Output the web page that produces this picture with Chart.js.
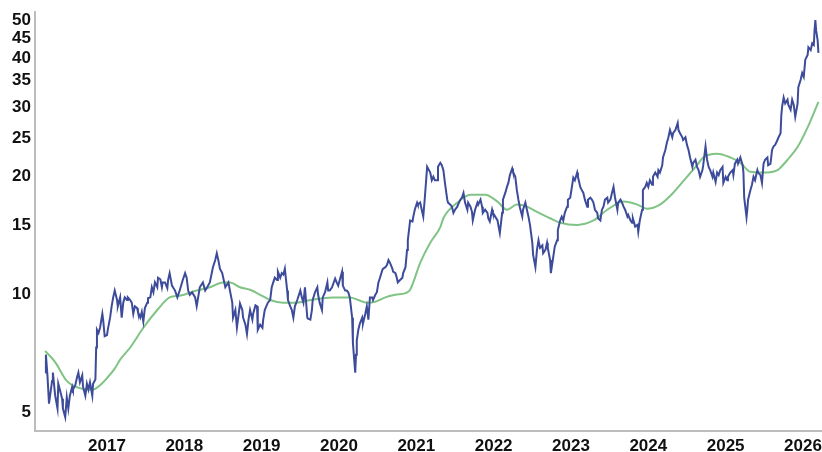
<!DOCTYPE html>
<html>
<head>
<meta charset="utf-8">
<script src="https://cdn.jsdelivr.net/npm/chart.js@4"></script>
<style>
  html, body { margin: 0; padding: 0; background: #fff; }
  #wrap { width: 822px; height: 452px; position: relative; }
</style>
</head>
<body>
<div id="wrap"><canvas id="chart"></canvas></div>
<script>
// price, decimal years
const priceDates = [
  2016.20, 2016.21, 2016.23, 2016.25, 2016.29, 2016.30, 2016.33, 2016.36, 2016.37, 2016.39, 2016.42, 2016.43,
  2016.46, 2016.48, 2016.50, 2016.52, 2016.55, 2016.56, 2016.59, 2016.61, 2016.63, 2016.65, 2016.68, 2016.69,
  2016.72, 2016.74, 2016.76, 2016.78, 2016.81, 2016.82, 2016.85, 2016.86, 2016.87, 2016.89, 2016.91, 2016.94,
  2016.95, 2016.97,
  2017.00, 2017.01, 2017.04, 2017.06, 2017.08, 2017.10, 2017.13, 2017.14, 2017.17, 2017.19, 2017.21, 2017.23,
  2017.26, 2017.27, 2017.30, 2017.32, 2017.34, 2017.36, 2017.39, 2017.40, 2017.43, 2017.45, 2017.47, 2017.49,
  2017.52, 2017.53, 2017.56, 2017.58, 2017.60, 2017.62, 2017.65, 2017.66, 2017.69, 2017.71, 2017.72, 2017.75,
  2017.78, 2017.79, 2017.81, 2017.84, 2017.88, 2017.91, 2017.94, 2017.98,
  2018.01, 2018.03, 2018.05, 2018.07, 2018.10, 2018.14, 2018.16, 2018.20, 2018.24, 2018.27, 2018.29, 2018.33,
  2018.37, 2018.40, 2018.42, 2018.44, 2018.46, 2018.49, 2018.53, 2018.57, 2018.59, 2018.62, 2018.63, 2018.66,
  2018.68, 2018.72, 2018.75, 2018.76, 2018.79, 2018.81, 2018.83, 2018.85, 2018.88, 2018.89, 2018.92, 2018.94,
  2018.95, 2018.98,
  2019.01, 2019.02, 2019.04, 2019.08, 2019.11, 2019.13, 2019.15, 2019.17, 2019.20, 2019.21, 2019.24, 2019.26,
  2019.28, 2019.30, 2019.33, 2019.34, 2019.37, 2019.39, 2019.41, 2019.43, 2019.46, 2019.50, 2019.52, 2019.54,
  2019.56, 2019.59, 2019.60, 2019.63, 2019.65, 2019.66, 2019.69, 2019.72, 2019.73, 2019.75, 2019.78, 2019.79,
  2019.82, 2019.85, 2019.86, 2019.88, 2019.91, 2019.92, 2019.95, 2019.97, 2019.99,
  2020.01, 2020.04, 2020.05, 2020.08, 2020.10, 2020.12, 2020.14, 2020.17, 2020.18, 2020.21, 2020.22, 2020.23,
  2020.25, 2020.27, 2020.30, 2020.31, 2020.34, 2020.36, 2020.38, 2020.40, 2020.43, 2020.44, 2020.47, 2020.49,
  2020.51, 2020.53, 2020.56, 2020.57, 2020.60, 2020.62, 2020.64, 2020.66, 2020.69, 2020.70, 2020.73, 2020.75,
  2020.76, 2020.79, 2020.82, 2020.83, 2020.86, 2020.88, 2020.89, 2020.92, 2020.95, 2020.96, 2020.98,
  2021.01, 2021.02, 2021.05, 2021.07, 2021.09, 2021.11, 2021.14, 2021.15, 2021.18, 2021.20, 2021.22, 2021.24,
  2021.27, 2021.28, 2021.31, 2021.33, 2021.35, 2021.37, 2021.40, 2021.41, 2021.44, 2021.46, 2021.48, 2021.50,
  2021.53, 2021.54, 2021.57, 2021.59, 2021.61, 2021.63, 2021.66, 2021.67, 2021.70, 2021.72, 2021.73, 2021.76,
  2021.79, 2021.80, 2021.83, 2021.85, 2021.86, 2021.89, 2021.92, 2021.93, 2021.95, 2021.98, 2021.99,
  2022.02, 2022.05, 2022.06, 2022.08, 2022.11, 2022.12, 2022.15, 2022.17, 2022.19, 2022.21, 2022.24, 2022.25,
  2022.28, 2022.30, 2022.32, 2022.34, 2022.37, 2022.38, 2022.41, 2022.43, 2022.45, 2022.47, 2022.50, 2022.51,
  2022.54, 2022.56, 2022.58, 2022.60, 2022.63, 2022.64, 2022.67, 2022.69, 2022.70, 2022.73, 2022.74, 2022.77,
  2022.79, 2022.82, 2022.83, 2022.86, 2022.88, 2022.90, 2022.92, 2022.95, 2022.96, 2022.99,
  2023.02, 2023.03, 2023.05, 2023.08, 2023.09, 2023.12, 2023.14, 2023.16, 2023.18, 2023.21, 2023.22, 2023.25,
  2023.27, 2023.29, 2023.31, 2023.34, 2023.35, 2023.38, 2023.40, 2023.42, 2023.44, 2023.47, 2023.48, 2023.51,
  2023.53, 2023.55, 2023.57, 2023.60, 2023.61, 2023.64, 2023.66, 2023.68, 2023.70, 2023.73, 2023.74, 2023.77,
  2023.79, 2023.80, 2023.83, 2023.86, 2023.87, 2023.89, 2023.92, 2023.93, 2023.96, 2023.98,
  2024.00, 2024.02, 2024.05, 2024.06, 2024.09, 2024.12, 2024.13, 2024.15, 2024.18, 2024.19, 2024.22, 2024.24,
  2024.26, 2024.28, 2024.31, 2024.32, 2024.35, 2024.38, 2024.39, 2024.41, 2024.44, 2024.45, 2024.48, 2024.50,
  2024.52, 2024.54, 2024.57, 2024.58, 2024.61, 2024.63, 2024.65, 2024.67, 2024.70, 2024.71, 2024.74, 2024.76,
  2024.78, 2024.80, 2024.83, 2024.84, 2024.87, 2024.89, 2024.91, 2024.93, 2024.96, 2024.97,
  2025.00, 2025.02, 2025.03, 2025.06, 2025.09, 2025.10, 2025.12, 2025.15, 2025.16, 2025.19, 2025.22, 2025.23,
  2025.24, 2025.27, 2025.28, 2025.29, 2025.32, 2025.34, 2025.36, 2025.38, 2025.41, 2025.42, 2025.45, 2025.47,
  2025.49, 2025.51, 2025.54, 2025.55, 2025.58, 2025.60, 2025.62, 2025.64, 2025.67, 2025.68, 2025.71, 2025.72,
  2025.73, 2025.75, 2025.77, 2025.80, 2025.81, 2025.84, 2025.86, 2025.88, 2025.90, 2025.93, 2025.94, 2025.97,
  2025.99,
  2026.01, 2026.03, 2026.06, 2026.07, 2026.10, 2026.12, 2026.14, 2026.15, 2026.16, 2026.17, 2026.19, 2026.20
];

const priceValues = [
  6.3, 7.0, 6.2, 5.25, 6.0, 6.3, 5.5, 5.1, 5.9, 5.7, 5.4, 5.1,
  4.85, 5.45, 5.1, 5.5, 5.8, 5.7, 5.85, 6.1, 6.3, 5.95, 6.2, 5.8,
  5.5, 5.9, 5.7, 5.95, 5.5, 5.9, 6.05, 7.3, 8.1, 7.95, 8.2, 8.9,
  8.6, 7.8,
  7.85, 8.1, 8.7, 9.3, 9.8, 10.2, 9.65, 9.3, 9.8, 8.7, 9.5, 9.8,
  9.65, 9.8, 9.65, 9.5, 8.9, 9.3, 9.2, 9.0, 8.7, 9.0, 8.5, 9.2,
  9.5, 9.75, 9.8, 10.4, 10.1, 10.7, 10.4, 11.0, 10.9, 10.4, 10.7, 10.7,
  10.35, 10.85, 11.3, 10.5, 10.2, 9.8, 10.2, 10.85,
  11.3, 11.0, 10.2, 9.95, 10.1, 9.8, 9.3, 10.4, 10.7, 10.2, 10.35, 10.7,
  11.7, 12.2, 12.7, 12.2, 11.6, 11.3, 10.4, 10.7, 10.2, 9.5, 8.7, 9.1,
  8.2, 9.45, 9.1, 8.7, 8.35, 7.9, 8.6, 9.1, 8.6, 8.9, 9.35, 9.3,
  8.1, 8.35,
  8.2, 8.6, 9.1, 9.5, 9.65, 10.4, 10.7, 11.0, 10.85, 11.4, 11.0, 11.3,
  11.2, 11.6, 10.2, 9.65, 9.3, 9.1, 8.7, 9.3, 9.65, 10.2, 9.8, 9.5,
  10.4, 8.7, 8.65, 8.6, 9.1, 9.65, 10.1, 10.4, 9.95, 9.5, 9.1, 9.8,
  10.1, 10.7, 10.2, 10.2, 10.4, 10.4, 10.95, 10.7, 10.5,
  10.85, 11.4, 10.5, 10.2, 10.2, 10.1, 9.8, 8.7, 7.5, 6.3, 7.0, 7.6,
  8.1, 8.4, 8.7, 8.4, 8.9, 9.3, 8.6, 9.8, 9.8, 9.65, 9.95, 10.1,
  10.7, 11.0, 11.5, 11.6, 11.7, 11.85, 12.2, 12.0, 11.6, 11.4, 11.3, 10.95,
  10.7, 10.85, 11.0, 11.3, 11.7, 12.95, 13.7, 15.4, 15.3, 15.7, 16.4,
  17.1, 16.9, 17.1, 16.4, 15.75, 17.6, 21.1, 21.1, 20.4, 19.5, 19.9, 19.5,
  19.5, 21.1, 21.6, 21.3, 20.7, 19.2, 17.4, 17.1, 16.9, 16.7, 16.1, 16.4,
  16.7, 16.9, 17.4, 17.6, 18.1, 17.1, 16.4, 17.1, 16.7, 16.2, 15.4, 16.4,
  17.1, 16.9, 17.4, 16.7, 16.1, 16.4, 16.1, 15.6, 15.3, 16.4, 16.1,
  15.75, 15.4, 15.0, 14.3, 16.1, 17.4, 18.1, 18.7, 19.2, 20.1, 20.9, 20.5,
  19.9, 18.4, 17.4, 16.6, 15.75, 16.4, 17.1, 16.4, 15.75, 15.0, 13.5, 12.6,
  11.7, 12.95, 13.7, 13.1, 13.3, 12.7, 12.95, 13.5, 13.1, 12.2, 11.3, 12.4,
  13.2, 13.7, 14.55, 15.4, 15.75, 15.4, 16.1, 16.7, 17.4, 17.6,
  19.2, 19.8, 19.5, 20.4, 19.9, 18.75, 18.4, 18.1, 17.4, 16.7, 17.4, 17.6,
  17.4, 17.1, 16.4, 16.1, 15.6, 15.4, 16.4, 16.7, 17.4, 17.6, 17.1, 17.4,
  18.1, 18.75, 17.6, 16.4, 17.1, 17.4, 17.1, 16.7, 16.4, 15.75, 15.9, 15.4,
  15.2, 15.6, 14.85, 15.0, 14.4, 15.4, 16.4, 18.4, 18.75, 19.2,
  18.75, 19.5, 19.0, 19.9, 20.4, 19.9, 20.7, 20.4, 21.3, 22.3, 23.3, 24.3,
  25.1, 26.2, 25.1, 25.7, 26.2, 27.3, 26.2, 25.7, 25.1, 24.7, 25.1, 24.0,
  23.3, 22.3, 21.1, 21.6, 22.0, 21.1, 20.7, 19.9, 20.7, 21.3, 23.8, 22.0,
  21.1, 20.7, 19.9, 20.4, 19.3, 20.4, 20.1, 20.7, 21.1, 19.2,
  19.9, 19.5, 19.9, 20.4, 20.7, 20.1, 21.5, 22.0, 21.5, 22.3, 21.3, 20.4,
  17.6, 15.7, 16.4, 17.4, 18.4, 19.0, 19.9, 19.5, 20.7, 20.4, 20.1, 19.2,
  21.5, 22.0, 22.3, 21.3, 21.5, 23.3, 23.8, 24.0, 24.7, 25.0, 25.7, 28.6,
  30.0, 31.7, 30.6, 31.3, 30.4, 29.5, 31.3, 30.4, 28.3, 30.6, 33.7, 35.2,
  36.6,
  35.8, 39.6, 40.7, 42.6, 41.9, 43.6, 43.2, 47.1, 50.0, 47.1, 44.3, 41.2
];

// moving average
const avgDates = [
  2016.20, 2016.33, 2016.48, 2016.65, 2016.82, 2016.91, 2017.00, 2017.10, 2017.17, 2017.30, 2017.47, 2017.65,
  2017.81, 2017.94, 2018.16, 2018.33, 2018.50, 2018.59, 2018.72, 2018.85, 2018.98, 2019.11, 2019.28, 2019.43,
  2019.63, 2019.92, 2020.14, 2020.25, 2020.36, 2020.47, 2020.60, 2020.73, 2020.86, 2020.92, 2021.05, 2021.18,
  2021.31, 2021.35, 2021.53, 2021.70, 2021.89, 2022.05, 2022.17, 2022.30, 2022.43, 2022.56, 2022.73, 2022.86,
  2023.08, 2023.29, 2023.47, 2023.68, 2023.86, 2023.98, 2024.15, 2024.32, 2024.50, 2024.63, 2024.71, 2024.89,
  2025.06, 2025.19, 2025.32, 2025.49, 2025.67, 2025.80, 2025.93, 2026.06, 2026.20
];
const avgValues = [
  7.15, 6.7, 6.0, 5.75, 5.7, 5.85, 6.1, 6.45, 6.8, 7.3, 8.2, 9.1,
  9.8, 9.9, 10.2, 10.4, 10.7, 10.7, 10.4, 10.25, 9.95, 9.65, 9.5, 9.5,
  9.65, 9.8, 9.8, 9.65, 9.5, 9.55, 9.8, 9.95, 10.05, 10.25, 12.0, 13.5,
  14.8, 15.6, 17.1, 17.9, 17.9, 17.2, 16.4, 16.9, 16.7, 16.2, 15.6, 15.2,
  15.0, 15.4, 16.4, 17.2, 16.9, 16.5, 16.9, 18.1, 19.9, 21.3, 22.3, 22.8,
  22.3, 21.6, 20.5, 20.4, 20.7, 22.0, 23.7, 26.6, 30.9
];

const yearTicks = [2017, 2018, 2019, 2020, 2021, 2022, 2023, 2024, 2025, 2026];
const priceTicks = [5, 10, 15, 20, 25, 30, 35, 40, 45, 50];

const axisFont = { family: 'Liberation Sans, Arial, sans-serif', size: 17, weight: 'bold' };
const axisColor = '#bdbdbd';

new Chart(document.getElementById('chart'), {
  type: 'line',
  data: {
    datasets: [
      {
        data: priceDates.map((d, i) => ({ x: d, y: priceValues[i] })),
        borderColor: '#3d4b9b',
        borderWidth: 2,
        pointRadius: 0,
        tension: 0,
      },
      {
        data: avgDates.map((d, i) => ({ x: d, y: avgValues[i] })),
        borderColor: '#80c485',
        borderWidth: 2,
        pointRadius: 0,
        cubicInterpolationMode: 'monotone',
      },
    ]
  },
  options: {
    responsive: true,
    maintainAspectRatio: false,
    animation: false,
    layout: { padding: { top: 12, right: 0, left: 0, bottom: 0 } },
    plugins: { legend: { display: false }, tooltip: { enabled: false } },
    scales: {
      x: {
        type: 'linear',
        min: 2016.069,
        max: 2026.246,
        grid: { display: false, drawTicks: false },
        border: { display: true, color: axisColor, width: 2 },
        ticks: { font: axisFont, color: '#111', padding: 5, maxRotation: 0, callback: v => String(v) },
        afterBuildTicks(scale) { scale.ticks = yearTicks.map(v => ({ value: v })); },
        afterFit(scale) { scale.height = 21; scale.paddingLeft = 0; scale.paddingRight = 0; },
      },
      y: {
        type: 'logarithmic',
        min: 4.47,
        max: 52.4,
        grid: { display: false, drawTicks: false },
        border: { display: true, color: axisColor, width: 2 },
        ticks: { font: axisFont, color: '#111', padding: 4, callback: v => String(v) },
        afterBuildTicks(scale) { scale.ticks = priceTicks.map(v => ({ value: v })); },
        afterFit(scale) { scale.width = 35; scale.paddingTop = 0; scale.paddingBottom = 0; },
      }
    }
  }
});
</script>
</body>
</html>
